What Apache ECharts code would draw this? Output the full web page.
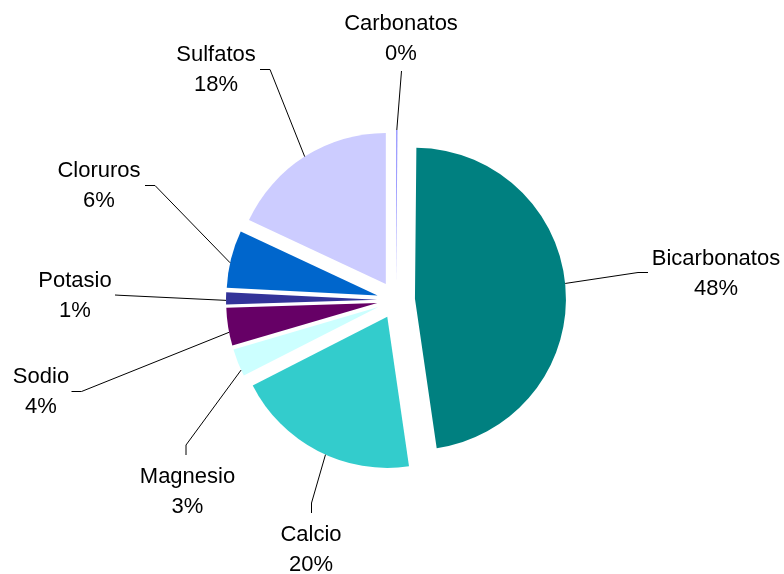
<!DOCTYPE html>
<html><head><meta charset="utf-8">
<script src="https://cdn.jsdelivr.net/npm/echarts@6/dist/echarts.min.js"></script>
<style>html,body{margin:0;padding:0;background:#fff}#c{width:784px;height:574px}</style>
</head><body><div id="c"></div>
<script>
// ---- data ----
const categories = ['Carbonatos','Bicarbonatos','Calcio','Magnesio','Sodio','Potasio','Cloruros','Sulfatos'];
const values = [0.15, 47.55, 19.8, 2.96, 4.05, 1.3, 6.14, 18.05];
const colors = ['#9999FF','#008080','#33CCCC','#CCFFFF','#660066','#333399','#0066CC','#CCCCFF'];

// ---- layout ----
const CX = 396, CY = 300, R = 151, OFF = 19;
const labelAnchor = [[401,38.5],[716,274],[311,550],[187.5,491.5],[41,391.5],[75,296],[99,186],[216,70]];
const attachFrac = [0.5, 0.49, 0.46, 0.25, 0.37, 0.35, 0.44, 0.5];
const labelGuide = [
  [[401.5,71],[401.5,71]],
  [[638,272.5],[648,272.5]],
  [[311.5,503],[311.5,513]],
  [[186,445],[186,455]],
  [[81.5,391.5],[71.5,391.5]],
  [[120,295.3],[115,295]],
  [[155,185.5],[145,185.5]],
  [[270,69.5],[260,69.5]]
];

const total = values.reduce((a,b)=>a+b,0);
let acc = 0;
const attachAng = values.map((v,i) => { const m = (acc + v*attachFrac[i]) / total * 2 * Math.PI; acc += v; return m; });
function edge(i){ const m = attachAng[i]; return [CX + (R+OFF)*Math.sin(m), CY - (R+OFF)*Math.cos(m)]; }

const chart = echarts.init(document.getElementById('c'), null, {renderer:'canvas'});
const font = "'Liberation Sans', Arial, sans-serif";
chart.setOption({
  animation: false,
  backgroundColor: '#fff',
  series: [
    {
      type: 'pie', center: [CX, CY], radius: R, startAngle: 90, clockwise: true,
      selectedMode: 'multiple', selectedOffset: OFF, silent: true,
      avoidLabelOverlap: false,
      label: {show: false}, labelLine: {show: false},
      emphasis: {disabled: true},
      itemStyle: {borderWidth: 0},
      data: categories.map((n,i)=>({name:n, value:values[i], selected:true, itemStyle:{color:colors[i]}}))
    },
    {
      type: 'pie', center: [CX, CY], radius: R, startAngle: 90, clockwise: true,
      silent: true, avoidLabelOverlap: false, z: 3,
      emphasis: {disabled: true},
      itemStyle: {color: 'rgba(0,0,0,0)', borderWidth: 0},
      label: {show: true,
        formatter: function(p){ return p.name + '\n' + Math.round(p.value / total * 100) + '%'; },
        fontSize: 22, lineHeight: 30, color: '#000', fontFamily: font},
      labelLine: {show: true, lineStyle: {color: '#000', width: 1}},
      labelLayout: function(p){
        const i = p.dataIndex;
        const a = labelAnchor[i];
        return {x: a[0], y: a[1], align: 'center', verticalAlign: 'middle',
          labelLinePoints: [edge(i), labelGuide[i][0], labelGuide[i][1]]};
      },
      data: categories.map((n,i)=>({name:n, value:values[i]}))
    }
  ]
});
</script></body></html>
